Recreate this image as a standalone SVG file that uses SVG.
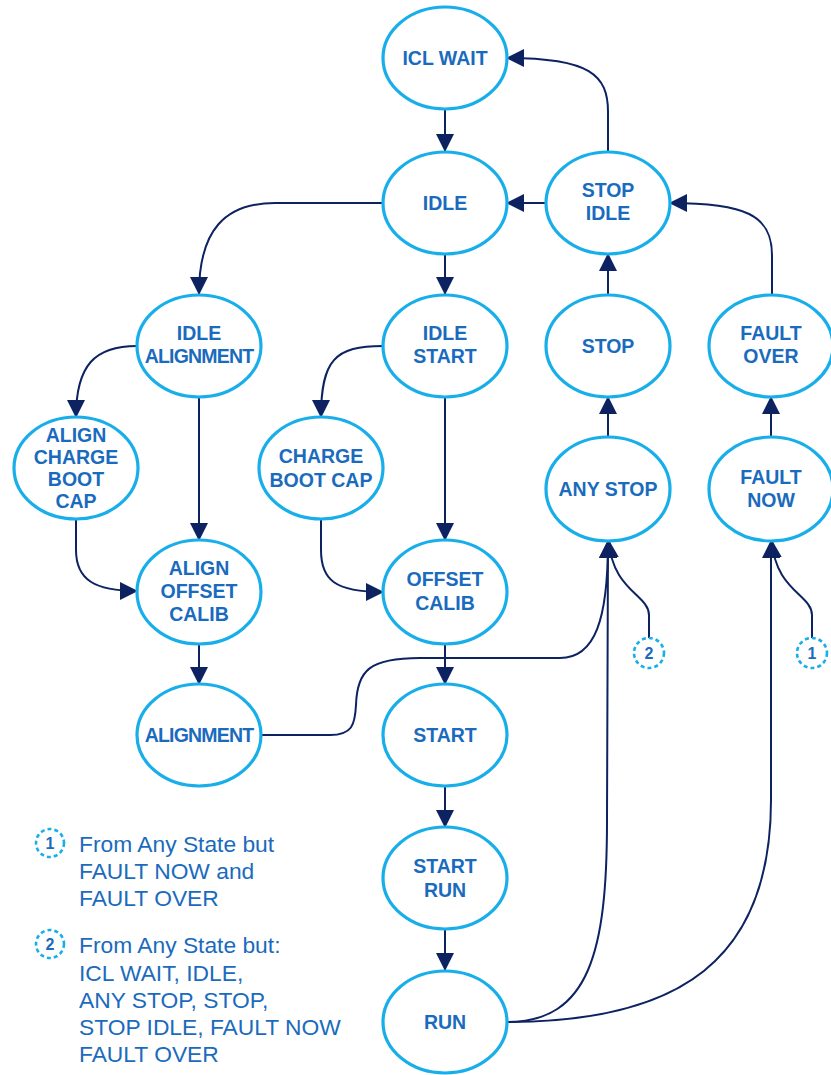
<svg xmlns="http://www.w3.org/2000/svg" width="831" height="1075" viewBox="0 0 831 1075">
  <style>
    .state { fill: #ffffff; stroke: #17aeea; stroke-width: 3.2; }
    .lbl { font-family: "Liberation Sans", Arial, sans-serif; font-weight: bold; font-size: 19.5px; fill: #1a6bbd; text-anchor: middle; }
    .edge { fill: none; stroke: #0c2261; stroke-width: 2; }
    .arrow { marker-end: url(#head); }
    .badge { fill: #ffffff; stroke: #17aeea; stroke-width: 2.6; stroke-dasharray: 4 3; }
    .num { font-family: "Liberation Sans", Arial, sans-serif; font-weight: bold; font-size: 16px; fill: #1a6bbd; text-anchor: middle; }
    .note { font-family: "Liberation Sans", Arial, sans-serif; font-size: 22.8px; fill: #1a6bbd; }
  </style>
  <defs>
    <marker id="head" markerUnits="userSpaceOnUse" markerWidth="19" markerHeight="19" refX="17" refY="9" orient="auto">
      <path d="M0,0 L18,9 L0,18 Z" fill="#0c2261"/>
    </marker>
  </defs>

  <rect width="831" height="1075" fill="#ffffff"/>

  <!-- transitions -->
  <g id="connectors">
    <path class="edge arrow" d="M445,109 L445,151"/>
    <path class="edge arrow" d="M547,203 L507,203"/>
    <path class="edge arrow" d="M608,152 L608,112 C608,75 590,58 507,58"/>
    <path class="edge arrow" d="M383,203 L275,203 C225,203 199,230 199,294"/>
    <path class="edge arrow" d="M445,254 L445,294"/>
    <path class="edge arrow" d="M137,346 C95,346 76,365 76,417"/>
    <path class="edge arrow" d="M199,397 L199,540"/>
    <path class="edge arrow" d="M76,520 L76,550 C76,580 95,591 137,591"/>
    <path class="edge arrow" d="M383,346 C335,346 321,360 321,417"/>
    <path class="edge arrow" d="M445,397 L445,540"/>
    <path class="edge arrow" d="M321,520 L321,550 C321,580 335,592 383,592"/>
    <path class="edge arrow" d="M199,644 L199,684"/>
    <path class="edge arrow" d="M445,644 L445,684"/>
    <path class="edge arrow" d="M261,735 L330,735 C352,735 355,725 356,705 C357,670 370,658 420,658 L560,658 C595,658 608,620 608,541"/>
    <path class="edge arrow" d="M445,787 L445,827"/>
    <path class="edge arrow" d="M445,930 L445,970"/>
    <path class="edge arrow" d="M507,1022 C590,1022 607,950 607,820 L608,541"/>
    <path class="edge arrow" d="M507,1022 C680,1022 771,960 771,800 L771,541"/>
    <path class="edge arrow" d="M649,638 L649,615 C649,595 612,590 609,541"/>
    <path class="edge arrow" d="M812,638 L812,615 C812,595 775,590 772,541"/>
    <path class="edge arrow" d="M608,437 L608,397"/>
    <path class="edge arrow" d="M608,295 L608,254"/>
    <path class="edge arrow" d="M771,437 L771,397"/>
    <path class="edge arrow" d="M772,295 L772,255 C772,215 745,203 670,203"/>
  </g>

  <!-- states -->
  <g id="icl-wait">
    <ellipse class="state" cx="445" cy="58" rx="62" ry="51"/>
    <text class="lbl" x="445" y="65">ICL WAIT</text>
  </g>
  <g id="idle">
    <ellipse class="state" cx="445" cy="203" rx="62" ry="51"/>
    <text class="lbl" x="445" y="210">IDLE</text>
  </g>
  <g id="stop-idle">
    <ellipse class="state" cx="608" cy="203" rx="62" ry="51"/>
    <text class="lbl" x="608" y="197">STOP</text>
    <text class="lbl" x="608" y="220">IDLE</text>
  </g>
  <g id="idle-alignment">
    <ellipse class="state" cx="199" cy="346" rx="62" ry="51"/>
    <text class="lbl" x="199" y="340">IDLE</text>
    <text class="lbl" x="199" y="363" letter-spacing="-0.8">ALIGNMENT</text>
  </g>
  <g id="idle-start">
    <ellipse class="state" cx="445" cy="346" rx="62" ry="51"/>
    <text class="lbl" x="445" y="340">IDLE</text>
    <text class="lbl" x="445" y="363">START</text>
  </g>
  <g id="stop">
    <ellipse class="state" cx="608" cy="346" rx="62" ry="51"/>
    <text class="lbl" x="608" y="353">STOP</text>
  </g>
  <g id="fault-over">
    <ellipse class="state" cx="771" cy="346" rx="62" ry="51"/>
    <text class="lbl" x="771" y="340">FAULT</text>
    <text class="lbl" x="771" y="363">OVER</text>
  </g>
  <g id="align-charge-boot-cap">
    <ellipse class="state" cx="76" cy="468" rx="62" ry="51"/>
    <text class="lbl" x="76" y="442">ALIGN</text>
    <text class="lbl" x="76" y="464">CHARGE</text>
    <text class="lbl" x="76" y="486">BOOT</text>
    <text class="lbl" x="76" y="508">CAP</text>
  </g>
  <g id="charge-boot-cap">
    <ellipse class="state" cx="321" cy="468" rx="62" ry="51"/>
    <text class="lbl" x="321" y="463">CHARGE</text>
    <text class="lbl" x="321" y="487">BOOT CAP</text>
  </g>
  <g id="any-stop">
    <ellipse class="state" cx="608" cy="489" rx="62" ry="52"/>
    <text class="lbl" x="608" y="496">ANY STOP</text>
  </g>
  <g id="fault-now">
    <ellipse class="state" cx="771" cy="489" rx="62" ry="52"/>
    <text class="lbl" x="771" y="484">FAULT</text>
    <text class="lbl" x="771" y="507">NOW</text>
  </g>
  <g id="align-offset-calib">
    <ellipse class="state" cx="199" cy="592" rx="62" ry="52"/>
    <text class="lbl" x="199" y="575">ALIGN</text>
    <text class="lbl" x="199" y="598">OFFSET</text>
    <text class="lbl" x="199" y="621">CALIB</text>
  </g>
  <g id="offset-calib">
    <ellipse class="state" cx="445" cy="592" rx="62" ry="52"/>
    <text class="lbl" x="445" y="586">OFFSET</text>
    <text class="lbl" x="445" y="610">CALIB</text>
  </g>
  <g id="alignment">
    <ellipse class="state" cx="199" cy="735" rx="62" ry="51"/>
    <text class="lbl" x="199" y="742" letter-spacing="-0.8">ALIGNMENT</text>
  </g>
  <g id="start">
    <ellipse class="state" cx="445" cy="735" rx="62" ry="51"/>
    <text class="lbl" x="445" y="742">START</text>
  </g>
  <g id="start-run">
    <ellipse class="state" cx="445" cy="878" rx="62" ry="51"/>
    <text class="lbl" x="445" y="873">START</text>
    <text class="lbl" x="445" y="897">RUN</text>
  </g>
  <g id="run">
    <ellipse class="state" cx="445" cy="1022" rx="62" ry="51"/>
    <text class="lbl" x="445" y="1029">RUN</text>
  </g>

  <!-- entry badges -->
  <g id="badge-2">
    <circle class="badge" cx="649" cy="653" r="15"/>
    <text class="num" x="649" y="659">2</text>
  </g>
  <g id="badge-1">
    <circle class="badge" cx="812" cy="653" r="15"/>
    <text class="num" x="812" y="659">1</text>
  </g>

  <!-- legend -->
  <g id="legend">
    <circle class="badge" cx="50" cy="843" r="14"/>
    <text class="num" x="50" y="849">1</text>
    <text class="note" x="79" y="852">From Any State but</text>
    <text class="note" x="79" y="879">FAULT NOW and</text>
    <text class="note" x="79" y="906">FAULT OVER</text>

    <circle class="badge" cx="50" cy="944" r="14"/>
    <text class="num" x="50" y="950">2</text>
    <text class="note" x="79" y="953">From Any State but:</text>
    <text class="note" x="79" y="981">ICL WAIT, IDLE,</text>
    <text class="note" x="79" y="1008">ANY STOP, STOP,</text>
    <text class="note" x="79" y="1035">STOP IDLE, FAULT NOW</text>
    <text class="note" x="79" y="1062">FAULT OVER</text>
  </g>
</svg>
